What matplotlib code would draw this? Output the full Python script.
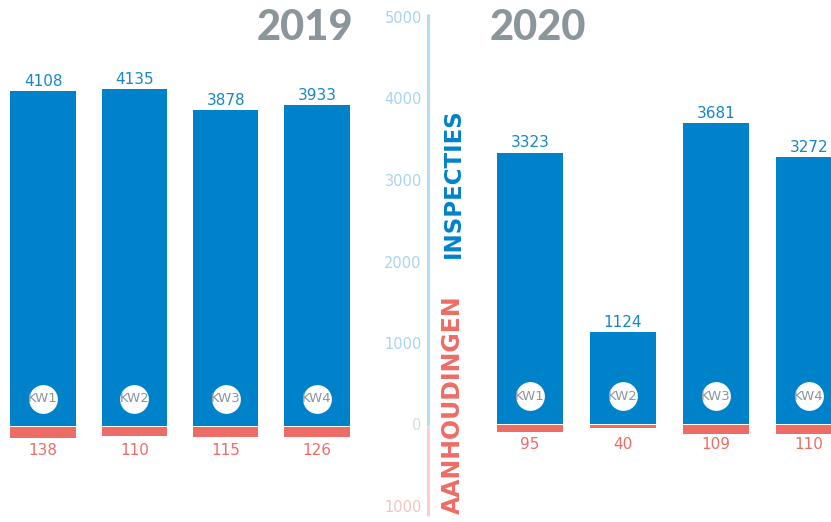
import matplotlib
matplotlib.use("Agg")
import matplotlib.pyplot as plt

# inspecties (blue) and aanhoudingen (red) per kwartaal
kwartalen = ["KW1", "KW2", "KW3", "KW4"]
inspecties_2019 = [4108, 4135, 3878, 3933]
aanhoudingen_2019 = [138, 110, 115, 126]
inspecties_2020 = [3323, 1124, 3681, 3272]
aanhoudingen_2020 = [95, 40, 109, 110]
axis_ticks = [-1000, 0, 1000, 2000, 3000, 4000, 5000]
axis_labels = ["1000", "0", "1000", "2000", "3000", "4000", "5000"]

BLUE = "#0082ca"
RED = "#ee6c66"
GREY = "#8a959c"
NUMFONT = ["DejaVu Sans"]
plt.rcParams["font.family"] = ["Lato", "DejaVu Sans"]

W, H = 831, 522
fig = plt.figure(figsize=(W / 100, H / 100), dpi=100)

# zero line at 96 px from the bottom, 1000 units = 81.5 px
px = 1000 / 81.5
ylim = (-96 * px, (H - 96) * px)


def panel(rect, xlim, insp, aanh, lab_off):
    ax = fig.add_axes(rect)
    x = range(len(insp))
    ax.bar(x, insp, width=0.715, color=BLUE, linewidth=0)
    ax.bar(x, [-v for v in aanh], bottom=-15, width=0.715, color=RED, linewidth=0)
    ax.scatter(x, [335] * len(insp), s=430, color="white", zorder=3, linewidths=0)
    for i, (v, a) in enumerate(zip(insp, aanh)):
        ax.annotate(str(v), (i, v), xytext=(0, 3.8), textcoords="offset points",
                    ha="center", va="baseline", fontsize=11, color="#1686c8",
                    family=NUMFONT)
        ax.annotate(str(a), (i, 0), xytext=(0, lab_off), textcoords="offset points",
                    ha="center", va="baseline", fontsize=11, color=RED,
                    family=NUMFONT)
        ax.text(i, 335, kwartalen[i], ha="center", va="center", fontsize=9.5,
                color=GREY, zorder=4, family=NUMFONT)
    ax.set_xlim(*xlim)
    ax.set_ylim(*ylim)
    ax.axis("off")
    return ax


panel([0, 0, 380 / W, 1], (-0.471, 3.69), inspecties_2019, aanhoudingen_2019, -21)
panel([440 / W, 2.5 / H, 391 / W, 1], (-0.968, 3.237), inspecties_2020, aanhoudingen_2020, -18.5)

# central axis
axc = fig.add_axes([428 / W, 0, 0.0001, 1])
axc.set_ylim(*ylim)
axc.set_xlim(-1, 1)
axc.plot([0, 0], [0, 5050], color="#b5dbf2", lw=2.2, clip_on=False, solid_capstyle="butt")
axc.plot([0, 0], [-1100, 0], color="#f8d0ce", lw=2.2, clip_on=False, solid_capstyle="butt")
tick_colors = ["#f6c3c0", "#d3dce1", "#a9d4ef", "#a9d4ef", "#a9d4ef", "#a9d4ef", "#a9d4ef"]
for t, l, c in zip(axis_ticks, axis_labels, tick_colors):
    axc.annotate(l, (0, t), xytext=(-4.5, 0), textcoords="offset points",
                 ha="right", va="center", fontsize=10.5, color=c, family=NUMFONT,
                 annotation_clip=False)
axc.axis("off")

fig.text(353 / W, 1 - 28 / H, "2019", ha="right", va="center", fontsize=30,
         fontweight="black", color=GREY)
fig.text(490 / W, 1 - 28 / H, "2020", ha="left", va="center", fontsize=30,
         fontweight="black", color=GREY)
fig.text(453 / W, 1 - 183 / H, "INSPECTIES", rotation=90, ha="center", va="center",
         fontsize=16.5, fontweight="bold", color=BLUE, family=NUMFONT)
fig.text(453 / W, 1 - 405 / H, "AANHOUDINGEN", rotation=90, ha="center", va="center",
         fontsize=17, fontweight="bold", color=RED, family=NUMFONT)

fig.savefig("out.png", dpi=100, facecolor="white")
